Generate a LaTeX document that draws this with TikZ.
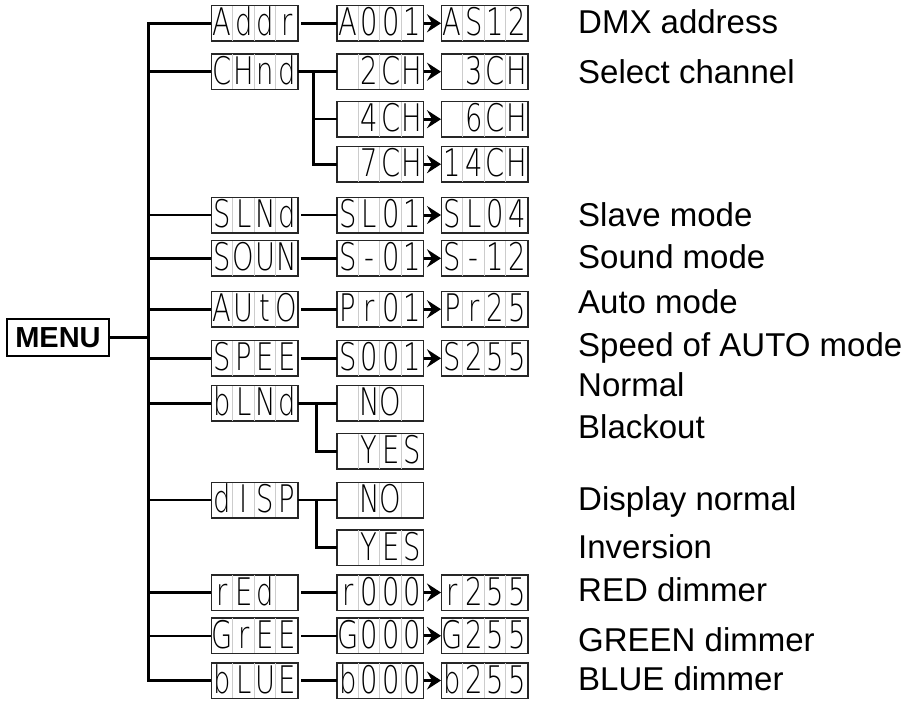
\documentclass[tikz,border=0pt]{standalone}
\usepackage{fontspec}
\setmainfont{Liberation Sans}
\newfontfamily\segfont[FakeStretch=0.72]{DejaVu Sans ExtraLight}
\usetikzlibrary{calc,arrows.meta}
\tikzset{
  dbox/.style={draw=black!85, line width=1pt, minimum width=86pt, minimum height=35pt, inner sep=0pt, fill=white},
  divider/.style={draw=black!20, line width=0.8pt},
  dchar/.style={anchor=base, inner sep=0pt, font=\segfont\fontsize{38}{38}\selectfont},
  conn/.style={draw=black, line width=2.6pt},
  arr/.style={draw=black, line width=3pt, -{Stealth[length=14pt,width=18pt,inset=5pt]}},
  lab/.style={anchor=base west, inner sep=0pt, font=\fontsize{33}{40}\selectfont},
  menubox/.style={draw=black, line width=2.6pt, minimum width=102pt, minimum height=37pt, inner sep=0pt, font=\bfseries\fontsize{29}{30}\selectfont}
}
\newcommand\dispbox[7]{%
  \node[dbox] (#1) at (#2,#3) {};
  \draw[divider] ($(#1.north west)+(21.5,0.6)$) -- ($(#1.south west)+(21.5,-0.6)$);
  \draw[divider] ($(#1.north west)+(43,0.6)$) -- ($(#1.south west)+(43,-0.6)$);
  \draw[divider] ($(#1.north west)+(64.5,0.6)$) -- ($(#1.south west)+(64.5,-0.6)$);
  \draw[draw=black!85, line width=1pt] (#1.north west) rectangle (#1.south east);
  \node[dchar] (#1-a) at ($(#1.center)+(-32.25,12.5)$) {#4};
  \node[dchar] (#1-b) at ($(#1.center)+(-10.75,12.5)$) {#5};
  \node[dchar] (#1-c) at ($(#1.center)+(10.75,12.5)$) {#6};
  \node[dchar] (#1-d) at ($(#1.center)+(32.25,12.5)$) {#7};
}
\begin{document}
\begin{tikzpicture}[x=1pt,y=-1pt]
\useasboundingbox (0,0) rectangle (922,701);
% column centres: 254.5, 380, 484.5
\dispbox{addr}{254.5}{23.3}{A}{d}{d}{r}
\dispbox{a001}{380}{23.3}{A}{0}{0}{1}
\dispbox{as12}{484.5}{23.3}{A}{S}{1}{2}
\dispbox{chnd}{254.5}{71.7}{C}{H}{n}{d}
\dispbox{c2}{380}{71.7}{}{2}{C}{H}
\dispbox{c3}{484.5}{71.7}{}{3}{C}{H}
\dispbox{c4}{380}{119.2}{}{4}{C}{H}
\dispbox{c6}{484.5}{119.2}{}{6}{C}{H}
\dispbox{c7}{380}{164.2}{}{7}{C}{H}
\dispbox{c14}{484.5}{164.2}{1}{4}{C}{H}
\dispbox{slnd}{254.5}{215}{S}{L}{N}{d}
\dispbox{sl01}{380}{215}{S}{L}{0}{1}
\dispbox{sl04}{484.5}{215}{S}{L}{0}{4}
\dispbox{soun}{254.5}{258.3}{S}{O}{U}{N}
\dispbox{s01}{380}{258.3}{S}{-}{0}{1}
\dispbox{s12}{484.5}{258.3}{S}{-}{1}{2}
\dispbox{auto}{254.5}{309.2}{A}{U}{t}{O}
\dispbox{pr01}{380}{309.2}{P}{r}{0}{1}
\dispbox{pr25}{484.5}{309.2}{P}{r}{2}{5}
\dispbox{spee}{254.5}{358.3}{S}{P}{E}{E}
\dispbox{s001}{380}{358.3}{S}{0}{0}{1}
\dispbox{s255}{484.5}{358.3}{S}{2}{5}{5}
\dispbox{blnd}{254.5}{403.3}{b}{L}{N}{d}
\dispbox{no1}{380}{403.3}{}{N}{O}{}
\dispbox{yes1}{380}{451.3}{}{Y}{E}{S}
\dispbox{disp}{254.5}{500}{d}{I}{S}{P}
\dispbox{no2}{380}{500}{}{N}{O}{}
\dispbox{yes2}{380}{547.5}{}{Y}{E}{S}
\dispbox{red}{254.5}{592.5}{r}{E}{d}{}
\dispbox{r000}{380}{592.5}{r}{0}{0}{0}
\dispbox{r255}{484.5}{592.5}{r}{2}{5}{5}
\dispbox{gree}{254.5}{635.8}{G}{r}{E}{E}
\dispbox{g000}{380}{635.8}{G}{0}{0}{0}
\dispbox{g255}{484.5}{635.8}{G}{2}{5}{5}
\dispbox{blue}{254.5}{680.5}{b}{L}{U}{E}
\dispbox{b000}{380}{680.5}{b}{0}{0}{0}
\dispbox{b255}{484.5}{680.5}{b}{2}{5}{5}

\node[menubox] (menu) at (58,337.5) {MENU};
\coordinate (mv) at (148.3,337.5);
\coordinate (cv) at (313.5,71.7);
\coordinate (bv) at (316.5,403.3);

% main tree
\draw[conn] (menu.east) -- (mv);
\draw[conn] (addr.west) -| (mv) |- (blue.west);
\foreach \n in {chnd,slnd,soun,auto,spee,blnd,disp,red,gree}
  \draw[conn] (\n.west -| mv) -- (\n.west);

% second column
\foreach \a/\b in {addr/a001,slnd/sl01,soun/s01,auto/pr01,spee/s001,red/r000,gree/g000,blue/b000}
  \draw[conn] ($(\a.east)+(3,0)$) -- (\b.west);
\draw[conn] (chnd.east) -- (c2.west);
\draw[conn] (cv) |- (c7.west);
\draw[conn] (c4.west -| cv) -- (c4.west);
\draw[conn] (blnd.east) -- (no1.west);
\draw[conn] (bv) |- (yes1.west);
\draw[conn] (disp.east) -- (no2.west);
\draw[conn] (disp.east -| bv) |- (yes2.west);

% arrows
\foreach \a/\b in {a001/as12,c2/c3,c4/c6,c7/c14,sl01/sl04,s01/s12,pr01/pr25,s001/s255,r000/r255,g000/g255,b000/b255}
  \draw[arr] (\a.east) -- (\b.west);

% labels
\node[lab] (l1) at (578,33.3) {DMX address};
\node[lab] (l2) at (578,83.3) {Select channel};
\node[lab] (l3) at (578,226.7) {Slave mode};
\node[lab] (l4) at (578,268.3) {Sound mode};
\node[lab] (l5) at (578,313.3) {Auto mode};
\node[lab] (l6) at (578,356.7) {Speed of AUTO mode};
\node[lab] (l7) at (578,396.7) {Normal};
\node[lab] (l8) at (578,438.3) {Blackout};
\node[lab] (l9) at (578,510) {Display normal};
\node[lab] (l10) at (578,558.3) {Inversion};
\node[lab] (l11) at (578,601.7) {RED dimmer};
\node[lab] (l12) at (578,651.7) {GREEN dimmer};
\node[lab] (l13) at (578,690) {BLUE dimmer};
\end{tikzpicture}
\end{document}
